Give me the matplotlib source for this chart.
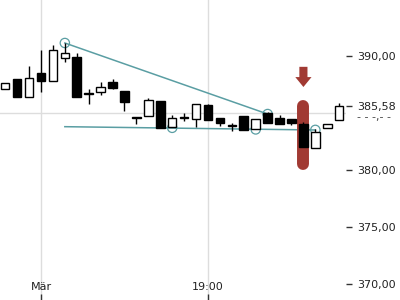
import matplotlib
matplotlib.use("Agg")
import matplotlib.pyplot as plt
import matplotlib.transforms as mtransforms

# ---- data ----
opens  = [387.1, 388.0, 386.4, 388.5, 387.8, 389.8, 389.95, 386.72, 386.8, 387.7,
          386.9, 384.62, 384.7, 386.05, 383.8, 384.62, 384.45, 385.7, 384.55, 383.93,
          384.7, 383.6, 385.0, 384.6, 384.45, 384.05, 381.9, 383.7, 384.4]
closes = [387.6, 386.4, 388.1, 387.8, 390.5, 390.25, 386.4, 386.65, 387.3, 387.2,
          386.0, 384.55, 386.1, 383.7, 384.6, 384.52, 385.8, 384.4, 384.15, 383.88,
          383.5, 384.45, 384.15, 384.0, 384.15, 382.05, 383.35, 384.05, 385.58]
highs  = [387.6, 388.0, 389.1, 390.5, 391.0, 391.1, 390.3, 387.1, 387.7, 388.0,
          386.9, 384.62, 386.3, 386.05, 384.8, 385.0, 385.8, 385.8, 384.55, 384.1,
          384.7, 384.45, 385.1, 384.85, 384.45, 384.25, 383.6, 384.05, 385.9]
lows   = [387.1, 386.4, 386.4, 386.8, 387.8, 389.5, 386.4, 385.8, 386.6, 387.1,
          385.2, 384.0, 384.7, 383.7, 383.8, 384.3, 383.8, 384.4, 383.9, 383.4,
          383.5, 383.6, 384.15, 384.0, 383.95, 382.05, 381.9, 383.7, 384.4]

upper_line_idx = [5, 22]
upper_line_val = [391.14, 384.91]
lower_line_idx = [5, 26]
lower_line_val = [383.80, 383.51]
circle_idx = [5, 22, 14, 21, 26]
circle_val = [391.14, 384.91, 383.70, 383.56, 383.52]

highlight_idx = 25
highlight_range = [385.6, 380.5]
arrow_top, arrow_neck, arrow_tip = 389.05, 388.15, 387.28

ytick_vals = [370, 375, 380, 385.58, 390]
ytick_labels = ["370,00", "375,00", "380,00", "385,58", "390,00"]
ygrid_vals = [370, 375, 380, 385, 390]
xtick_idx = [3, 17]
xtick_labels = ["Mär", "19:00"]

# ---- figure ----
fig = plt.figure(figsize=(4, 3), dpi=100)
ax = fig.add_axes([0, 0, 0.865, 1])
ax.set_xlim(-0.436, 28.57)
ax.set_ylim(368.6, 394.91)
for s in ax.spines.values():
    s.set_visible(False)

teal = "#5a9ea3"
red = "#a13a33"

# grid
ax.set_yticks(ygrid_vals, minor=True)
ax.grid(True, which="minor", axis="y", color="#dddddd", lw=1)
ax.set_xticks(xtick_idx)
ax.set_xticklabels(xtick_labels)
ax.grid(True, which="major", axis="x", color="#dddddd", lw=1)
ax.tick_params(axis="y", which="minor", length=0)
ax.set_axisbelow(True)

ax.yaxis.tick_right()
ax.set_yticks(ytick_vals)
ax.set_yticklabels(ytick_labels)
ax.tick_params(axis="y", which="major", length=4, width=1, color="#333333",
               labelsize=8, labelcolor="#222222", pad=4)
ax.tick_params(axis="x", direction="in", length=4, width=1, color="#333333",
               labelsize=8, labelcolor="#222222", pad=-13)

# trend lines
ax.plot(upper_line_idx, upper_line_val, color=teal, lw=1.1, zorder=2)
ax.plot(lower_line_idx, lower_line_val, color=teal, lw=1.1, zorder=2)
ax.scatter(circle_idx, circle_val, s=45, facecolors="none", edgecolors=teal,
           linewidths=0.9, zorder=2)

# highlight bar
ax.plot([highlight_idx, highlight_idx], highlight_range, color=red, lw=8.6,
        solid_capstyle="round", zorder=3)
# arrow
sw, hw = 0.34, 0.68
ax.fill([highlight_idx - sw, highlight_idx + sw, highlight_idx + sw, highlight_idx + hw,
         highlight_idx, highlight_idx - hw, highlight_idx - sw],
        [arrow_top, arrow_top, arrow_neck, arrow_neck, arrow_tip, arrow_neck, arrow_neck],
        color=red, lw=0, zorder=3)

# candles
idx = list(range(len(opens)))
ax.vlines(idx, lows, highs, color="black", lw=1, zorder=4)
bodies = [c - o for o, c in zip(opens, closes)]
faces = ["white" if c > o else "black" for o, c in zip(opens, closes)]
ax.bar(idx, bodies, bottom=opens, width=0.72, color=faces, edgecolor="black",
       linewidth=1, zorder=5)

# placeholder label under last price
trans = mtransforms.blended_transform_factory(ax.transAxes, ax.transData)
ax.text(1.032, 384.65, "- - -,- -", transform=trans, fontsize=8,
        color="#444444", ha="left", va="center", clip_on=False)

fig.savefig("out.png", dpi=100)
